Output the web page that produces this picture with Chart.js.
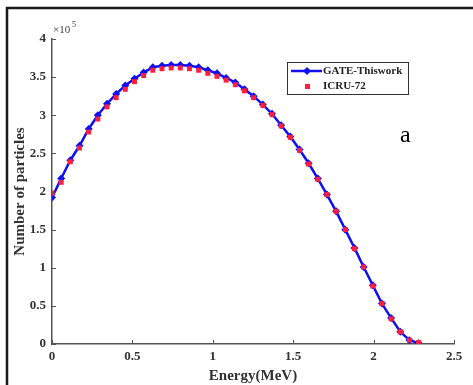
<!DOCTYPE html>
<html>
<head>
<meta charset="utf-8">
<script src="https://cdn.jsdelivr.net/npm/chart.js@4"></script>
<style>
body{margin:0;background:#fff;}
canvas{display:block;}
</style>
</head>
<body>
<canvas id="energyChart" width="473" height="385"></canvas>
<script>
// energy bins (MeV), step ~0.057
const energy = [0,0.057,0.114,0.171,0.228,0.285,0.342,0.399,0.456,0.513,0.57,0.627,0.684,0.741,0.798,0.855,0.912,0.969,1.026,1.083,1.14,1.197,1.254,1.311,1.368,1.425,1.482,1.539,1.596,1.653,1.71,1.767,1.824,1.881,1.938,1.995,2.052,2.109,2.166,2.223,2.28];

// number of particles, in units of 1e5
const gateValues = [1.92,2.17,2.41,2.60,2.82,3.00,3.15,3.28,3.39,3.48,3.56,3.63,3.65,3.66,3.66,3.65,3.63,3.59,3.55,3.49,3.43,3.34,3.25,3.14,3.02,2.87,2.72,2.55,2.37,2.17,1.96,1.74,1.50,1.26,1.01,0.77,0.53,0.34,0.16,0.05,0.01];
const icruValues = [1.98,2.12,2.39,2.57,2.78,2.95,3.11,3.23,3.34,3.44,3.52,3.59,3.61,3.62,3.62,3.61,3.59,3.55,3.51,3.46,3.40,3.32,3.23,3.13,3.01,2.86,2.71,2.54,2.36,2.16,1.96,1.74,1.50,1.25,1.01,0.76,0.53,0.33,0.16,0.05,0.02];

const xTicks = [0,0.5,1,1.5,2,2.5];
const yTicks = [0,0.5,1,1.5,2,2.5,3,3.5,4];

const seriesNames = ["GATE-Thiswork","ICRU-72"];

const blue = "#1010f0";
const red = "#ff1f3d";
const tickFont = {family:"'Liberation Serif', serif", size:13, weight:"bold"};
const titleFont = {family:"'Liberation Serif', serif", size:15, weight:"bold"};

function toPoints(values){
return values.map((v,i) => ({x:energy[i], y:v}));
}

// frame, inward ticks, exponent, legend and the "a" label
const extras = {
id:"extras",
afterDraw(chart){
const ctx = chart.ctx;
const xs = chart.scales.x;
const ys = chart.scales.y;
ctx.save();

// black frame (top + left)
ctx.strokeStyle = "#1a1a1a";
ctx.lineWidth = 2.5;
ctx.beginPath();
ctx.moveTo(7,385);
ctx.lineTo(7,8);
ctx.lineTo(473,8);
ctx.stroke();

// inward ticks
ctx.strokeStyle = "#555";
ctx.lineWidth = 1;
xTicks.forEach(t => {
const px = Math.round(xs.getPixelForValue(t)) + 0.5;
ctx.beginPath();
ctx.moveTo(px, ys.bottom);
ctx.lineTo(px, ys.bottom - 4);
ctx.stroke();
});
yTicks.forEach(t => {
const py = Math.round(ys.getPixelForValue(t)) + 0.5;
ctx.beginPath();
ctx.moveTo(xs.left, py);
ctx.lineTo(xs.left + 4, py);
ctx.stroke();
});

// x10^5
ctx.fillStyle = "#444";
ctx.textBaseline = "alphabetic";
ctx.textAlign = "left";
ctx.font = "11px 'Liberation Serif', serif";
ctx.fillText("\u00d710", 53, 33);
ctx.font = "8px 'Liberation Serif', serif";
ctx.fillText("5", 72, 27);

// legend
const lx = 287, ly = 62, lw = 121, lh = 32;
ctx.fillStyle = "#fff";
ctx.fillRect(lx, ly, lw, lh);
ctx.strokeStyle = "#333";
ctx.lineWidth = 1;
ctx.strokeRect(lx + 0.5, ly + 0.5, lw, lh);

ctx.strokeStyle = blue;
ctx.lineWidth = 2.5;
ctx.beginPath();
ctx.moveTo(291, 71);
ctx.lineTo(322, 71);
ctx.stroke();
ctx.fillStyle = blue;
ctx.beginPath();
ctx.moveTo(307, 67);
ctx.lineTo(311, 71);
ctx.lineTo(307, 75);
ctx.lineTo(303, 71);
ctx.closePath();
ctx.fill();

ctx.fillStyle = red;
ctx.fillRect(305, 84, 5, 5);

ctx.fillStyle = "#222";
ctx.font = "bold 11px 'Liberation Serif', serif";
ctx.textBaseline = "middle";
ctx.fillText(seriesNames[0], 323, 71);
ctx.fillText(seriesNames[1], 323, 86);

// panel label
ctx.fillStyle = "#000";
ctx.font = "24px 'Liberation Serif', serif";
ctx.textBaseline = "alphabetic";
ctx.fillText("a", 400, 142);

ctx.restore();
}
};

new Chart(document.getElementById("energyChart"),{

type:"line",

data:{
datasets:[
{
label:seriesNames[0],
data:toPoints(gateValues),
borderColor:blue,
backgroundColor:blue,
borderWidth:2.5,
pointStyle:"rectRot",
pointRadius:4,
pointBorderWidth:0,
tension:0,
order:1
},
{
label:seriesNames[1],
data:toPoints(icruValues),
borderColor:red,
backgroundColor:red,
showLine:false,
pointStyle:"rect",
pointRadius:3.5,
pointBorderWidth:0,
order:0
}
]
},

options:{
responsive:false,
animation:false,
layout:{padding:{left:0, top:39, right:19, bottom:0}},
plugins:{legend:{display:false}, tooltip:{enabled:false}},
scales:{
x:{
type:"linear",
min:0,
max:2.5,
afterBuildTicks(s){ s.ticks = xTicks.map(v => ({value:v})); },
afterFit(s){ s.height = 41; },
border:{color:"#555", width:1.5},
grid:{drawOnChartArea:false, drawTicks:false},
ticks:{font:tickFont, color:"#333", padding:5, callback:v => String(v)},
title:{display:true, text:"Energy(MeV)", font:titleFont, color:"#333", padding:{top:0, bottom:0}}
},
y:{
min:0,
max:4,
afterBuildTicks(s){ s.ticks = yTicks.map(v => ({value:v})); },
afterFit(s){ s.width = 52; },
border:{color:"#555", width:1.5},
grid:{drawOnChartArea:false, drawTicks:false},
ticks:{font:tickFont, color:"#333", padding:6, callback:v => String(v)},
title:{display:true, text:"Number of particles", font:titleFont, color:"#333", padding:{top:11, bottom:2}}
}
}
},

plugins:[extras]

});
</script>
</body>
</html>
